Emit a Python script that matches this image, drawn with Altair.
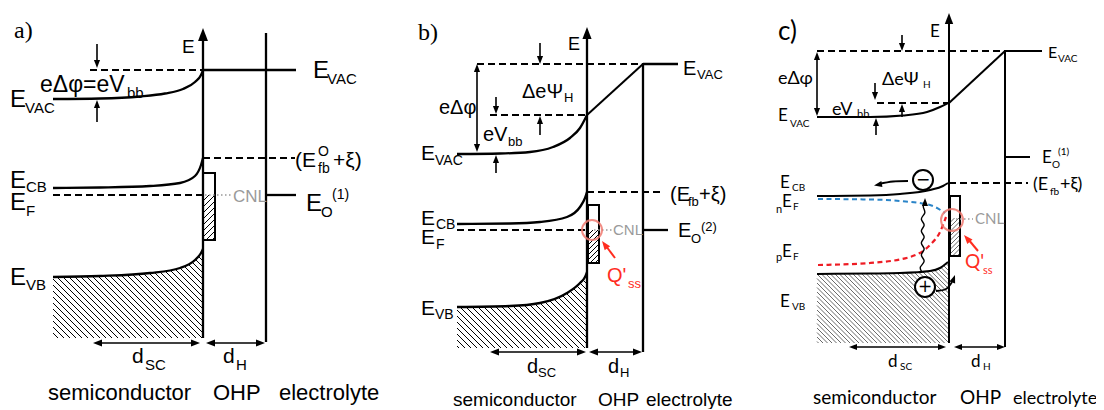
import altair as alt
import pandas as pd

# ---------------- band-diagram values (x = position, y = energy drawn downward, page px) -------------
# panel a
A_VAC_X = [53, 100, 140, 165, 183, 195, 201, 203]
A_VAC_Y = [99, 98.5, 96.5, 93.5, 89, 82, 75, 70]
A_CB_X = [53, 100, 150, 180, 195, 201, 203]
A_CB_Y = [188, 187.5, 186, 183, 176, 165, 158]
A_VB_X = [53, 100, 150, 180, 195, 201, 203]
A_VB_Y = [277, 276, 273, 268, 260, 253, 249]
# panel b
B_VAC_X = [457, 500, 530, 553, 570, 580, 587]
B_VAC_Y = [154, 153.5, 152, 147, 138, 128, 115]
B_CB_X = [457, 510, 540, 567, 580, 585, 587]
B_CB_Y = [224, 223.5, 222, 217, 207, 198, 192]
B_VB_X = [457, 510, 540, 567, 580, 585, 587]
B_VB_Y = [307, 306, 303, 293, 283, 277, 272]
# panel c
C_VAC_X = [817, 870, 903, 927, 940, 948]
C_VAC_Y = [117, 117, 115.5, 112, 107, 103]
C_CB_X = [817, 870, 900, 930, 943, 948]
C_CB_Y = [196, 195.5, 194, 190, 186, 183]
C_NEF_X = [818, 870, 900, 930, 945]
C_NEF_Y = [199, 199.5, 201, 205, 213]
C_PEF_X = [818, 870, 910, 930, 940, 946]
C_PEF_Y = [265, 263, 257, 245, 232, 217]
C_VB_X = [817, 870, 900, 930, 940, 948]
C_VB_Y = [274, 273.5, 273, 271, 268, 262]
# photon (wavy) and carrier paths in panel c
WAVE_X = [922, 918.5, 927, 918.5, 927, 918.5, 927, 918.5, 927, 918.5, 927, 922, 925]
WAVE_Y = [272, 267, 261, 255, 249, 243, 237, 231, 225, 219, 213, 207, 201]
ELEC_X = [908, 893, 879]
ELEC_Y = [181, 181.5, 184]
HOLE_X = [936, 946, 952]
HOLE_Y = [291, 289, 282]

# straight levels: x1, y1, x2, y2, width
SOLID = [
    (203, 338, 203, 38, 2.3), (266, 33, 266, 342, 2.3), (203, 70, 296, 70, 2.3), (266, 195, 296, 195, 2.3),
    (587, 348, 587, 36, 2.3), (643, 63, 643, 352, 2.3), (643, 64, 678, 64, 2.3), (587, 115, 643, 64, 2.0),
    (643, 230, 668, 230, 2.3),
    (949, 343, 949, 22, 2.0), (1005, 51, 1005, 347, 2.0), (1005, 51, 1042, 51, 2.0), (949, 103, 1005, 51, 2.0),
    (1005, 157, 1030, 157, 2.0),
]
THIN = [
    (97, 44, 97, 62), (97, 122, 97, 106), (97, 343, 197, 343), (210, 343, 262, 343),
    (477, 70, 477, 146), (540, 43, 540, 58), (496, 97, 496, 109), (540, 135, 540, 122), (496, 173, 496, 161),
    (494, 352, 582, 352), (593, 352, 639, 352),
    (817, 58, 817, 110), (902, 35, 902, 45), (875, 83, 875, 94), (902, 117, 902, 110), (876, 135, 876, 124),
    (853, 347, 942, 347), (958, 347, 1002, 347),
]
RED_STEMS = [(615, 258, 606, 246), (978, 251, 968, 239)]
DASHED = [
    (90, 70, 203, 70), (203, 158, 295, 158), (53, 195, 203, 195),
    (477, 64, 643, 64), (490, 115, 587, 115), (587, 192, 663, 192), (457, 230, 587, 230),
    (817, 51, 1005, 51), (877, 103, 949, 103), (949, 183, 1028, 183),
]
DOTTED = [(205, 195, 233, 195), (594, 230, 612, 230), (956, 219, 973, 219)]
# arrow heads: tip x, tip y, direction (deg clockwise from up), length
HEADS = [
    (203, 28, 0, 13), (97, 68, 180, 8), (97, 100, 0, 8), (93, 343, 270, 9), (200, 343, 90, 9),
    (206, 343, 270, 9), (265, 343, 90, 9),
    (587, 27, 0, 12), (477, 64, 0, 8), (477, 152, 180, 8), (540, 64, 180, 8), (496, 114, 180, 8),
    (540, 116, 0, 8), (496, 155, 0, 8), (490, 352, 270, 9), (586, 352, 90, 9), (589, 352, 270, 9),
    (642, 352, 90, 9),
    (949, 13, 0, 11), (817, 52, 0, 8), (817, 116, 180, 8), (902, 51, 180, 8), (875, 100, 180, 8),
    (902, 104, 0, 8), (876, 118, 0, 8), (849, 347, 270, 8), (946, 347, 90, 8), (954, 347, 270, 8),
    (1005, 347, 90, 8), (925, 198, 0, 8), (874, 185.5, 260, 8), (955, 275, 20, 8),
]
RED_HEADS = [(602, 241, 323, 9), (964, 235, 319, 9)]
# surface-state boxes x1, y1, x2, y2
BOXES = [(203, 173, 215, 240), (588, 205, 599, 263), (950, 196, 960, 256)]
# hatched band regions: valence-band edge, right edge, bottom, spacing, width, colour
HATCH_BANDS = [
    (A_VB_X, A_VB_Y, 203, 338, 6, 1.0, "#000"),
    (B_VB_X, B_VB_Y, 587, 348, 6, 1.0, "#000"),
    (C_VB_X, C_VB_Y, 949, 343, 4.5, 0.8, "#444"),
]
# hatched parts of the surface-state boxes: x1, x2, top, bottom, spacing, width, colour
HATCH_BOXES = [
    (203, 215, 195, 240, 6, 1.0, "#000"), (588, 599, 230, 263, 5, 1.0, "#000"),
    (950, 960, 218, 256, 4.5, 0.8, "#444"),
]
RINGS = [(592, 230, 10), (952, 220, 11)]
CARRIERS = [(923, 180, 10, "−"), (925, 287, 10, "+")]

RED = "#ff2d1f"
# text pieces: text, x, baseline y, size
TEXT_SANS = [
    ("E", 182, 53, 19), ("E", 313, 78, 24), ("VAC", 327, 84, 15),
    ("eΔφ=eV", 40, 92, 23), ("bb", 127, 98, 15), ("E", 10, 107, 24), ("VAC", 25, 113, 15),
    ("(E", 295, 167, 21), ("O", 318, 156, 14), ("fb", 318, 173, 14), ("+ξ)", 333, 167, 21),
    ("E", 306, 211, 24), ("O", 321, 217, 15), ("(1)", 332, 199, 14),
    ("E", 10, 188, 24), ("CB", 26, 192, 15), ("E", 10, 210, 24), ("F", 26, 216, 15),
    ("E", 10, 285, 24), ("VB", 26, 290, 15),
    ("d", 132, 363, 21), ("SC", 145, 370, 15), ("d", 223, 363, 21), ("H", 236, 370, 15),
    ("semiconductor", 48, 400, 22), ("OHP", 213, 400, 22), ("electrolyte", 279, 400, 22),
    ("E", 568, 50, 18), ("E", 683, 75, 20), ("VAC", 697, 79, 13),
    ("ΔeΨ", 522, 98, 20), ("H", 564, 102, 13), ("eΔφ", 439, 114, 20),
    ("eV", 483, 141, 20), ("bb", 508, 146, 13), ("E", 421, 160, 21), ("VAC", 435, 165, 14),
    ("(E", 670, 201, 20), ("fb", 688, 206, 13), ("+ξ)", 699, 201, 20),
    ("E", 421, 225, 21), ("CB", 436, 229, 14), ("E", 421, 244, 21), ("F", 436, 249, 14),
    ("E", 678, 237, 20), ("O", 691, 243, 13), ("(2)", 701, 231, 13),
    ("E", 421, 315, 21), ("VB", 435, 319, 14),
    ("d", 527, 373, 20), ("SC", 538, 377, 13), ("d", 608, 373, 20), ("H", 620, 377, 13),
    ("semiconductor", 453, 406, 19), ("OHP", 598, 406, 19), ("electrolyte", 646, 406, 19),
]
TEXT_SANS_GREY = [("CNL", 233, 202, 17), ("CNL", 613, 235, 15)]
TEXT_SANS_RED = [("Q'", 607, 282, 20), ("ss", 628, 288, 13)]
TEXT_SERIF = [("a)", 14, 38, 24), ("b)", 418, 40, 24)]
TEXT_C = [
    ("c)", 778, 40, 26), ("E", 930, 37, 17), ("E", 1048, 58, 16), ("VAC", 1058, 62, 10),
    ("eΔφ", 778, 84, 18), ("ΔeΨ", 882, 85, 18), ("H", 923, 88, 10),
    ("eV", 832, 115, 18), ("bb", 857, 118, 11), ("E", 778, 121, 17), ("VAC", 790, 127, 10),
    ("E", 1042, 163, 17), ("O", 1052, 168, 10), ("(1)", 1058, 155, 10),
    ("(E", 1033, 190, 18), ("fb", 1050, 195, 10), ("+ξ)", 1060, 190, 18),
    ("E", 780, 188, 17), ("CB", 792, 191, 10),
    ("n", 776, 213, 11), ("E", 782, 207, 17), ("F", 793, 210, 10),
    ("p", 776, 261, 11), ("E", 782, 257, 17), ("F", 793, 260, 10),
    ("E", 780, 307, 17), ("VB", 792, 310, 10),
    ("d", 888, 367, 17), ("SC", 900, 370, 10), ("d", 971, 367, 17), ("H", 983, 370, 10),
    ("semiconductor", 813, 404, 19), ("OHP", 960, 404, 19), ("electrolyte", 1013, 404, 18),
]
TEXT_C_GREY = [("CNL", 975, 224, 15)]
TEXT_C_RED = [("Q'", 965, 268, 19), ("ss", 983, 274, 11)]

# ---------------- chart ----------------
W, H, M = 1088, 401, 8
xs = alt.Scale(domain=[M, M + W], nice=False, zero=False)
ys = alt.Scale(domain=[M, M + H], nice=False, zero=False, reverse=True)


def X(f="x"):
    return alt.X(f + ":Q", scale=xs, axis=None)


def Y(f="y"):
    return alt.Y(f + ":Q", scale=ys, axis=None)


def monotone(px, py):
    """Evaluator of the same monotone-x cubic that the line marks draw (d3 curveMonotoneX)."""
    n = len(px)
    t = [0.0] * n
    sgn = lambda v: -1 if v < 0 else 1
    for i in range(1, n - 1):
        h0, h1 = px[i] - px[i - 1], px[i + 1] - px[i]
        s0, s1 = (py[i] - py[i - 1]) / h0, (py[i + 1] - py[i]) / h1
        p = (s0 * h1 + s1 * h0) / (h0 + h1)
        t[i] = (sgn(s0) + sgn(s1)) * min(abs(s0), abs(s1), 0.5 * abs(p))
    t[0] = (3 * (py[1] - py[0]) / (px[1] - px[0]) - t[1]) / 2
    t[-1] = (3 * (py[-1] - py[-2]) / (px[-1] - px[-2]) - t[-2]) / 2

    def f(x):
        for i in range(n - 1):
            if x <= px[i + 1] or i == n - 2:
                h = px[i + 1] - px[i]
                u = min(max((x - px[i]) / h, 0), 1)
                c1 = py[i] + h / 3 * t[i]
                c2 = py[i + 1] - h / 3 * t[i + 1]
                return ((1 - u) ** 3 * py[i] + 3 * (1 - u) ** 2 * u * c1
                        + 3 * (1 - u) * u ** 2 * c2 + u ** 3 * py[i + 1])
    return f


# hatch lines ("\" under the valence band, "/" in the boxes)
hrows = []
for bx, by, x1, ybot, sp, w, col in HATCH_BANDS:
    f = monotone(bx, by)
    x0 = bx[0]
    samples = [x0 + 0.2 * k for k in range(int((x1 - x0) / 0.2) + 1)]
    fv = [f(s) for s in samples]
    c = min(by) - x1
    while c < ybot - x0:
        start = None
        for s, v in zip(samples, fv):
            if s + c >= v:
                start = s
                break
        if start is not None:
            end = min(x1, ybot - c)
            if end > start:
                hrows.append(dict(x=start, y=start + c, x2=end, y2=end + c, w=w, c=col))
        c += sp
for x0, x1, y0, y1, sp, w, col in HATCH_BOXES:
    c = x0 + y0
    while c < x1 + y1:
        a, b = max(x0, c - y1), min(x1, c - y0)
        if b > a:
            hrows.append(dict(x=a, y=c - a, x2=b, y2=c - b, w=w, c=col))
        c += sp
hatch = alt.Chart(pd.DataFrame(hrows)).mark_rule().encode(
    x=X(), y=Y(), x2=alt.X2("x2:Q"), y2=alt.Y2("y2:Q"),
    strokeWidth=alt.StrokeWidth("w:Q", scale=None), color=alt.Color("c:N", scale=None))


def seg_df(segs, width=None):
    rows = []
    for s in segs:
        rows.append(dict(x=s[0], y=s[1], x2=s[2], y2=s[3], w=(s[4] if len(s) > 4 else width)))
    return pd.DataFrame(rows)


def rule_layer(df, **kw):
    return alt.Chart(df).mark_rule(**kw).encode(
        x=X(), y=Y(), x2=alt.X2("x2:Q"), y2=alt.Y2("y2:Q"),
        strokeWidth=alt.StrokeWidth("w:Q", scale=None))


def curve_df(curves):
    rows = []
    for cid, cx, cy, col, w in curves:
        for i, (a, b) in enumerate(zip(cx, cy)):
            rows.append(dict(id=cid, x=a, y=b, o=i, c=col, w=w))
    return pd.DataFrame(rows)


def curve_layer(df, interp="monotone", **kw):
    return alt.Chart(df).mark_line(interpolate=interp, **kw).encode(
        x=X(), y=Y(), detail="id:N", order="o:Q",
        color=alt.Color("c:N", scale=None), strokeWidth=alt.StrokeWidth("w:Q", scale=None))


boxes = alt.Chart(pd.DataFrame([dict(x=b[0], y=b[1], x2=b[2], y2=b[3]) for b in BOXES])).mark_rect(
    fillOpacity=0, stroke="black", strokeWidth=2).encode(x=X(), y=Y(), x2=alt.X2("x2:Q"), y2=alt.Y2("y2:Q"))

solid_curves = curve_df([
    ("aV", A_VAC_X, A_VAC_Y, "black", 2.3), ("aC", A_CB_X, A_CB_Y, "black", 2.3), ("aB", A_VB_X, A_VB_Y, "black", 2.3),
    ("bV", B_VAC_X, B_VAC_Y, "black", 2.3), ("bC", B_CB_X, B_CB_Y, "black", 2.3), ("bB", B_VB_X, B_VB_Y, "black", 2.3),
    ("cV", C_VAC_X, C_VAC_Y, "black", 2.0), ("cC", C_CB_X, C_CB_Y, "black", 2.0), ("cB", C_VB_X, C_VB_Y, "black", 2.0),
])
quasi = curve_df([("n", C_NEF_X, C_NEF_Y, "#2a84c8", 2.0), ("p", C_PEF_X, C_PEF_Y, "#ee1c24", 2.2)])
wave = curve_df([("w", WAVE_X, WAVE_Y, "black", 1.4)])
paths = curve_df([("e", ELEC_X, ELEC_Y, "black", 1.8), ("h", HOLE_X, HOLE_Y, "black", 1.8)])

ARROW = "M0,0L0.38,1L-0.38,1Z"


def head_layer(heads, col):
    df = pd.DataFrame([dict(x=h[0], y=h[1], a=h[2], s=4 * h[3] ** 2) for h in heads])
    return alt.Chart(df).mark_point(shape=ARROW, filled=True, color=col, opacity=1, strokeWidth=0).encode(
        x=X(), y=Y(), angle=alt.Angle("a:Q", scale=None), size=alt.Size("s:Q", scale=None))


rings = alt.Chart(pd.DataFrame([dict(x=r[0], y=r[1], s=(2 * r[2]) ** 2) for r in RINGS])).mark_point(
    shape="circle", filled=False, color="#f07a70", strokeWidth=2, opacity=0.85).encode(
    x=X(), y=Y(), size=alt.Size("s:Q", scale=None))
carr_df = pd.DataFrame([dict(x=c[0], y=c[1], s=(2 * c[2]) ** 2, t=c[3]) for c in CARRIERS])
carriers = alt.Chart(carr_df).mark_point(
    shape="circle", filled=True, fill="white", stroke="black", strokeWidth=2, opacity=1).encode(
    x=X(), y=Y(), size=alt.Size("s:Q", scale=None))
carrier_signs = alt.Chart(carr_df).mark_text(
    font="DejaVu Sans", fontSize=17, align="center", baseline="middle").encode(x=X(), y=Y(), text="t:N")


def text_layer(items, font, col):
    df = pd.DataFrame([dict(t=i[0], x=i[1], y=i[2], s=i[3]) for i in items])
    return alt.Chart(df).mark_text(font=font, align="left", baseline="alphabetic", color=col).encode(
        x=X(), y=Y(), text="t:N", size=alt.Size("s:Q", scale=None))


SANS = "Liberation Sans"
CFONT = "Lato, Open Sans, DejaVu Sans"
layers = [
    hatch, boxes,
    rule_layer(seg_df(DASHED, 2.2), color="black", strokeDash=[7, 4]),
    rule_layer(seg_df(DOTTED, 1.6), color="#999999", strokeDash=[1.5, 2.5]),
    curve_layer(quasi, strokeDash=[5, 3.5]),
    curve_layer(solid_curves),
    rule_layer(seg_df(SOLID), color="black"),
    rule_layer(seg_df(THIN, 1.6), color="black"),
    rule_layer(seg_df(RED_STEMS, 2.0), color=RED),
    curve_layer(wave, interp="basis"),
    curve_layer(paths, interp="cardinal"),
    head_layer(HEADS, "black"), head_layer(RED_HEADS, RED),
    rings, carriers, carrier_signs,
    text_layer(TEXT_SANS, SANS, "black"), text_layer(TEXT_SANS_GREY, SANS, "#9a9a9a"),
    text_layer(TEXT_SANS_RED, SANS, RED), text_layer(TEXT_SERIF, "Liberation Serif", "black"),
    text_layer(TEXT_C, CFONT, "black"), text_layer(TEXT_C_GREY, CFONT, "#9a9a9a"),
    text_layer(TEXT_C_RED, CFONT, RED),
]

chart = alt.layer(*layers).properties(width=W, height=H, padding=0, autosize="none").configure_view(stroke=None)
chart.save("out.html", embed_options={"renderer": "svg", "actions": False})
